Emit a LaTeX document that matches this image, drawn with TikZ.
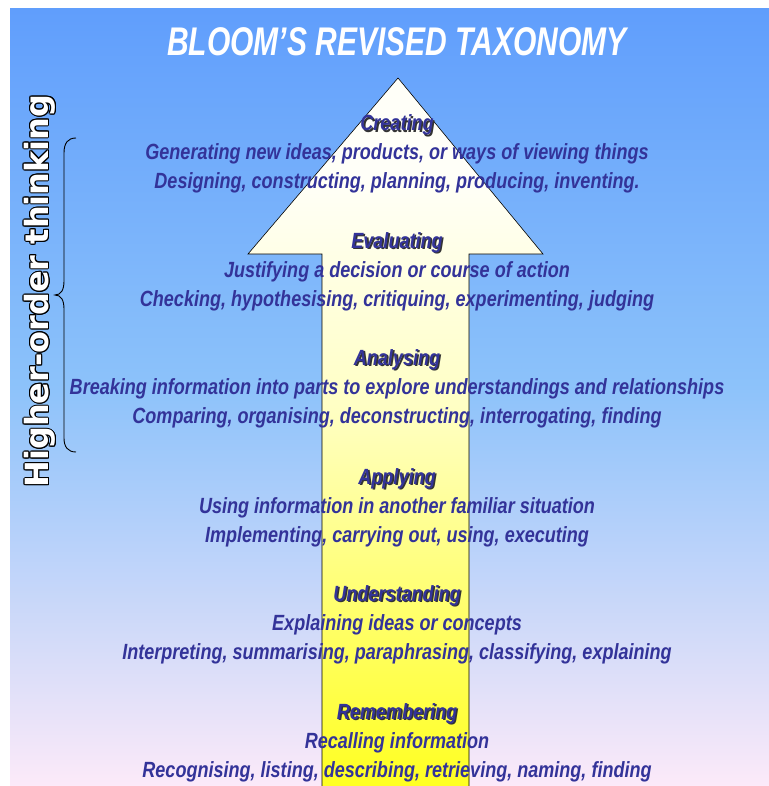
\documentclass[tikz,border=0pt]{standalone}
\usepackage{fontspec}
\usetikzlibrary{calc}
\newfontfamily\nbi[FakeStretch=0.82]{Liberation Sans Bold Italic}
\newfontfamily\nbt[FakeStretch=0.75]{Liberation Sans Bold Italic}
\newfontfamily\dvb{DejaVu Sans Bold}
\definecolor{txtblue}{RGB}{51,51,153}
\definecolor{bgtop}{RGB}{96,158,252}
\definecolor{bgmid}{RGB}{140,194,250}
\definecolor{bgbot}{RGB}{253,234,249}
\definecolor{arrtop}{RGB}{255,255,248}
\definecolor{arrmid}{RGB}{255,255,196}
\definecolor{arrbot}{RGB}{255,255,30}
\pgfdeclareverticalshading{bgshade}{100bp}{color(0bp)=(bgbot); color(25bp)=(bgbot); color(51bp)=(bgmid); color(75bp)=(bgtop); color(100bp)=(bgtop)}
\pgfdeclareverticalshading{arrshade}{100bp}{color(0bp)=(arrbot); color(25bp)=(arrbot); color(52bp)=(arrmid); color(68bp)=(arrtop); color(100bp)=(arrtop)}
\tikzset{
  desc/.style={font=\nbi\fontsize{22}{26}\selectfont, text=txtblue, inner sep=0pt, anchor=base},
  head/.style={font=\nbi\fontsize{22}{26}\selectfont, text=txtblue, inner sep=0pt, anchor=base},
  headshadow/.style={font=\nbi\fontsize{22}{26}\selectfont, text=black!80, inner sep=0pt, anchor=base},
  hotxt/.style={font=\dvb\fontsize{32}{38}\selectfont, inner sep=0pt, rotate=90},
}
\newcommand\lvl[5]{%
  \node[headshadow] (#1s) at (398.6,#3+1.6) {#2};
  \node[head] (#1) at (397,#3) {#2};
  \node[desc] (#1a) at (397,#3+29) {#4};
  \node[desc] (#1b) at (397,#3+58) {#5};
}
\begin{document}
\begin{tikzpicture}[x=1pt,y=-1pt]
\useasboundingbox (0,0) rectangle (768,786);
\shade[shading=bgshade] (10,9) rectangle (770,790);
\node[font=\nbt\fontsize{40}{44}\selectfont, text=white, inner sep=0pt, anchor=base] (title) at (397,56) {BLOOM’S REVISED TAXONOMY};
\draw[black, line width=0.6pt, shading=arrshade]
  (398,78) -- (543,254) -- (469,254) -- (469,792) -- (322,792) -- (322,254) -- (248,254) -- cycle;
\draw[line width=0.9pt] (76,138) .. controls (68,138) and (64,143) .. (64,153) -- (64,281)
  .. controls (64,290) and (61,295) .. (55,295) .. controls (61,295) and (64,300) .. (64,309)
  -- (64,438) .. controls (64,447) and (68,452) .. (76,452);
\foreach \a in {0,30,...,330}{
  \node[hotxt, text=black] (ho\a) at ($(40,291)+(\a:1.0)$) {Higher-order thinking};
}
\node[hotxt, text=white] (ho) at (40,291) {Higher-order thinking};
\lvl{cr}{Creating}{131}{Generating new ideas, products, or ways of viewing things}{Designing, constructing, planning, producing, inventing.}
\lvl{ev}{Evaluating}{248}{Justifying a decision or course of action}{Checking, hypothesising, critiquing, experimenting, judging}
\lvl{an}{Analysing}{365}{Breaking information into parts to explore understandings and relationships}{Comparing, organising, deconstructing, interrogating, finding}
\lvl{ap}{Applying}{484}{Using information in another familiar situation}{Implementing, carrying out, using, executing}
\lvl{un}{Understanding}{601}{Explaining ideas or concepts}{Interpreting, summarising, paraphrasing, classifying, explaining}
\lvl{re}{Remembering}{719}{Recalling information}{Recognising, listing, describing, retrieving, naming, finding}
\end{tikzpicture}
\end{document}
